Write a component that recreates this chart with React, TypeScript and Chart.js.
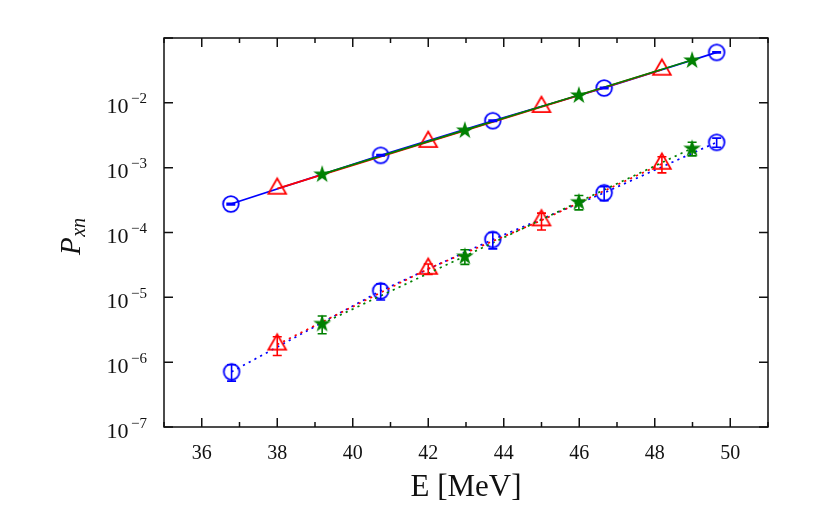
import React, { useEffect, useRef } from "react";
import { Chart, registerables } from "chart.js";

Chart.register(...registerables);

// ---- data ----
const xMajorTicks = [36, 38, 40, 42, 44, 46, 48, 50];
const xMinorTicks = [35, 37, 39, 41, 43, 45, 47, 49, 51];
const yMajorExps = [-7, -6, -5, -4, -3, -2, -1];
const yLabelExps = [-7, -6, -5, -4, -3, -2];

// upper (solid) series
const blueE1 = [36.77, 40.74, 43.71, 46.66, 49.64];
const blueP1 = [2.75e-4, 1.55e-3, 5.3e-3, 1.69e-2, 6.0e-2];
const blueErr1 = [8e-6, 4e-5, 1.3e-4, 4e-4, 1.3e-3];
const redE1 = [38.0, 42.0, 45.0, 48.19];
const redP1 = [4.75e-4, 2.5e-3, 8.65e-3, 3.25e-2];
const greenE1 = [39.19, 42.97, 45.99, 48.99];
const greenP1 = [7.96e-4, 3.8e-3, 1.32e-2, 4.57e-2];

// lower (dotted) series with error bars
const blueE2 = [36.79, 40.74, 43.71, 46.66, 49.64];
const blueP2 = [7.1e-7, 1.26e-5, 7.8e-5, 4.1e-4, 2.46e-3];
const blueErr2 = [2e-7, 3.5e-6, 2.2e-5, 1e-4, 4e-4];
const redE2 = [38.0, 42.0, 45.0, 48.19];
const redP2 = [1.87e-6, 2.76e-5, 1.54e-4, 1.15e-3];
const redErr2 = [6e-7, 5e-6, 4.5e-5, 3.2e-4];
const greenE2 = [39.19, 42.97, 45.99, 48.99];
const greenP2 = [3.95e-6, 4.32e-5, 2.98e-4, 1.99e-3];
const greenErr2 = [1.2e-6, 1.1e-5, 7.5e-5, 4.7e-4];

const BLUE = "#0000ff";
const RED = "#ff0000";
const GREEN = "#008000";
const FONT = '"Liberation Serif", "Times New Roman", serif';

function toPoints(xs: number[], ys: number[]) {
  return xs.map((x, i) => ({ x, y: ys[i] }));
}

function makeCircle(color: string) {
  const c = document.createElement("canvas");
  c.width = 24;
  c.height = 24;
  const g = c.getContext("2d")!;
  g.strokeStyle = color;
  g.lineWidth = 1.8;
  g.beginPath();
  g.arc(12, 12, 7.8, 0, Math.PI * 2);
  g.stroke();
  return c;
}

function makeTriangle(color: string) {
  // centred on the centroid
  const c = document.createElement("canvas");
  c.width = 26;
  c.height = 26;
  const g = c.getContext("2d")!;
  const r = 10.2;
  g.strokeStyle = color;
  g.lineWidth = 1.8;
  g.lineJoin = "miter";
  g.beginPath();
  g.moveTo(13, 13 - r);
  g.lineTo(13 - r * 0.866, 13 + r * 0.5);
  g.lineTo(13 + r * 0.866, 13 + r * 0.5);
  g.closePath();
  g.stroke();
  return c;
}

function makeStar(color: string) {
  const c = document.createElement("canvas");
  c.width = 24;
  c.height = 24;
  const g = c.getContext("2d")!;
  const R = 9.4;
  const r = R * 0.381966;
  g.fillStyle = color;
  g.beginPath();
  for (let i = 0; i < 10; i++) {
    const rad = i % 2 === 0 ? R : r;
    const a = -Math.PI / 2 + (i * Math.PI) / 5;
    const px = 12 + rad * Math.cos(a);
    const py = 12.5 + rad * Math.sin(a);
    if (i === 0) g.moveTo(px, py);
    else g.lineTo(px, py);
  }
  g.closePath();
  g.fill();
  return c;
}

const errorBarPlugin = {
  id: "errorBars",
  afterDatasetsDraw(chart: any) {
    const ctx = chart.ctx;
    const xs = chart.scales.x;
    const ys = chart.scales.y;
    ctx.save();
    chart.data.datasets.forEach((ds: any) => {
      if (!ds.errors) return;
      ctx.strokeStyle = ds.borderColor;
      ctx.lineWidth = 1.6;
      ds.data.forEach((p: any, i: number) => {
        const e = ds.errors[i];
        if (!e) return;
        const px = xs.getPixelForValue(p.x);
        const y1 = ys.getPixelForValue(p.y + e);
        const y2 = ys.getPixelForValue(Math.max(p.y - e, 1e-12));
        const cap = 4.5;
        ctx.beginPath();
        ctx.moveTo(px, y1);
        ctx.lineTo(px, y2);
        ctx.moveTo(px - cap, y1);
        ctx.lineTo(px + cap, y1);
        ctx.moveTo(px - cap, y2);
        ctx.lineTo(px + cap, y2);
        ctx.stroke();
      });
    });
    ctx.restore();
  },
};

const framePlugin = {
  id: "frameAxes",
  afterDraw(chart: any) {
    const ctx = chart.ctx;
    const { left, right, top, bottom } = chart.chartArea;
    const xs = chart.scales.x;
    const ys = chart.scales.y;
    ctx.save();
    ctx.strokeStyle = "#111";
    ctx.lineWidth = 1.5;
    ctx.strokeRect(left, top, right - left, bottom - top);

    ctx.beginPath();
    const major = 9;
    const minor = 5;
    xMajorTicks.forEach((v) => {
      const px = xs.getPixelForValue(v);
      ctx.moveTo(px, bottom);
      ctx.lineTo(px, bottom - major);
      ctx.moveTo(px, top);
      ctx.lineTo(px, top + major);
    });
    xMinorTicks.forEach((v) => {
      const px = xs.getPixelForValue(v);
      ctx.moveTo(px, bottom);
      ctx.lineTo(px, bottom - minor);
      ctx.moveTo(px, top);
      ctx.lineTo(px, top + minor);
    });
    yMajorExps.forEach((e) => {
      const py = ys.getPixelForValue(Math.pow(10, e));
      ctx.moveTo(left, py);
      ctx.lineTo(left + major, py);
      ctx.moveTo(right, py);
      ctx.lineTo(right - major, py);
    });
    ctx.stroke();

    // x tick labels
    ctx.fillStyle = "#111";
    ctx.font = `20px ${FONT}`;
    ctx.textAlign = "center";
    ctx.textBaseline = "alphabetic";
    xMajorTicks.forEach((v) => {
      const px = xs.getPixelForValue(v);
      ctx.fillText(String(v), px, 458.5);
    });

    // y tick labels 10^e
    yLabelExps.forEach((e) => {
      const py = ys.getPixelForValue(Math.pow(10, e));
      const sup = "\u2212" + String(-e);
      ctx.font = `15px ${FONT}`;
      ctx.textAlign = "right";
      const supW = ctx.measureText(sup).width;
      ctx.fillText(sup, 147, py + 0.5);
      ctx.font = `22px ${FONT}`;
      ctx.fillText("10", 147 - supW - 2.5, py + 10.5);
    });

    // x axis title
    ctx.font = `31px ${FONT}`;
    ctx.textAlign = "center";
    ctx.fillText("E [MeV]", (left + right) / 2, 496);

    // y axis title P_xn (rotated)
    ctx.save();
    ctx.translate(80, 255);
    ctx.rotate(-Math.PI / 2);
    ctx.textAlign = "left";
    ctx.font = `italic 29px ${FONT}`;
    ctx.fillText("P", 0, 0);
    const pw = ctx.measureText("P").width;
    ctx.font = `italic 20px ${FONT}`;
    ctx.fillText("xn", pw + 0.5, 5);
    ctx.restore();

    ctx.restore();
  },
};

export default function App() {
  const ref = useRef<HTMLCanvasElement | null>(null);

  useEffect(() => {
    const canvas = ref.current;
    if (!canvas) return;
    const circ = makeCircle(BLUE);
    const tri = makeTriangle(RED);
    const star = makeStar(GREEN);

    const base = {
      showLine: true,
      borderWidth: 1.7,
      pointRadius: 8,
      pointHoverRadius: 8,
      fill: false,
      tension: 0,
    };
    const dotted = [2.2, 4.3];

    const chart = new Chart(canvas, {
      type: "scatter",
      data: {
        datasets: [
          { ...base, label: "green1", data: toPoints(greenE1, greenP1), borderColor: GREEN, backgroundColor: GREEN, pointStyle: star as any },
          { ...base, label: "red1", data: toPoints(redE1, redP1), borderColor: RED, backgroundColor: RED, pointStyle: tri as any },
          { ...base, label: "blue1", data: toPoints(blueE1, blueP1), borderColor: BLUE, backgroundColor: BLUE, pointStyle: circ as any, errors: blueErr1 } as any,
          { ...base, label: "green2", data: toPoints(greenE2, greenP2), borderColor: GREEN, backgroundColor: GREEN, pointStyle: star as any, borderDash: dotted, errors: greenErr2 } as any,
          { ...base, label: "red2", data: toPoints(redE2, redP2), borderColor: RED, backgroundColor: RED, pointStyle: tri as any, borderDash: dotted, errors: redErr2 } as any,
          { ...base, label: "blue2", data: toPoints(blueE2, blueP2), borderColor: BLUE, backgroundColor: BLUE, pointStyle: circ as any, borderDash: dotted, errors: blueErr2 } as any,
        ],
      },
      options: {
        responsive: false,
        animation: false,
        devicePixelRatio: 1,
        layout: { padding: { top: 38, right: 62, left: 0, bottom: 0 } },
        plugins: {
          legend: { display: false },
          tooltip: { enabled: false },
        },
        events: [],
        scales: {
          x: {
            type: "linear",
            min: 35,
            max: 51,
            ticks: { display: false },
            grid: { display: false },
            border: { display: false },
            afterFit: (s: any) => {
              s.height = 105;
            },
          },
          y: {
            type: "logarithmic",
            min: 1e-7,
            max: 1e-1,
            ticks: { display: false },
            grid: { display: false },
            border: { display: false },
            afterFit: (s: any) => {
              s.width = 164;
            },
          },
        },
      } as any,
      plugins: [errorBarPlugin, framePlugin],
    });
    return () => chart.destroy();
  }, []);

  return (
    <div style={{ position: "absolute", left: 0, top: 0, width: 830, height: 532, background: "#fff" }}>
      <canvas ref={ref} width={830} height={532} style={{ width: 830, height: 532 }} />
    </div>
  );
}
